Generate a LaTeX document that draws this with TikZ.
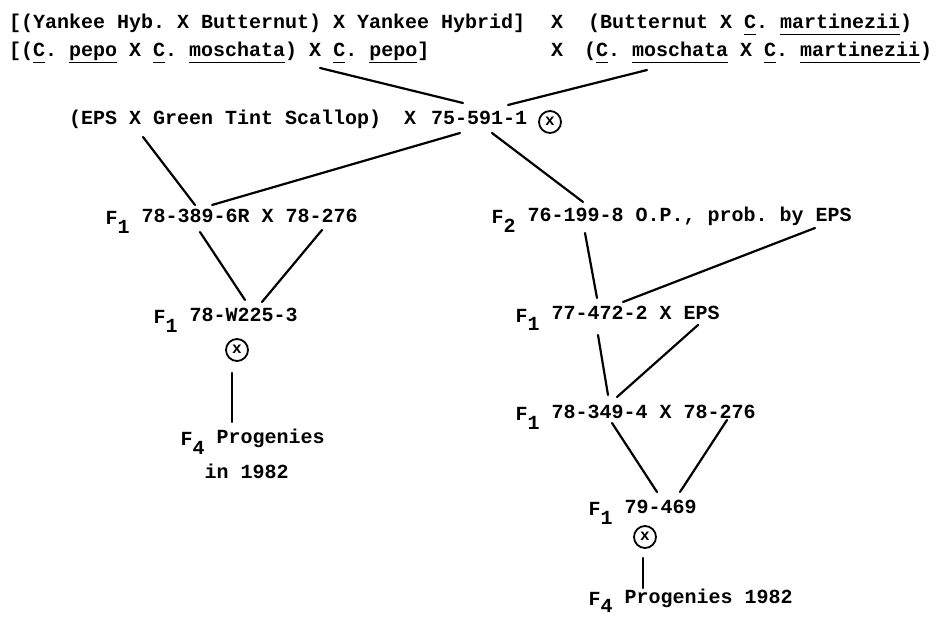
\documentclass[tikz,border=0pt]{standalone}
\usepackage{fontspec}
\newfontfamily\twfont{Liberation Mono}
% typewriter face used for every label, one space width after every period
\newcommand\tw{\twfont\bfseries\fontsize{20}{24}\selectfont\frenchspacing}
% underline at a fixed depth below the baseline
\newcommand\undl[1]{\setbox0=\hbox{#1}\rlap{\rule[-6.5pt]{\wd0}{1.4pt}}\box0\relax}
% generation mark: F with a dropped subscript
\newcommand\gen[1]{\raisebox{-2pt}{F}\raisebox{-11pt}{#1}}
\begin{document}
\begin{tikzpicture}[x=1pt,y=-1pt,
  lbl/.style={anchor=base west, inner sep=0pt, font=\tw},
  crossx/.style={anchor=base, inner sep=0pt, font=\tw},
  link/.style={line width=2.2pt, line cap=round},
  selfmark/.style={circle, draw, line width=1.8pt, minimum size=22pt, inner sep=0pt,
    font=\twfont\bfseries\fontsize{16}{16}\selectfont}]
\useasboundingbox (0,0) rectangle (942,617);

% parental lines
\node[lbl] (l1a) at (9,29) {[(Yankee Hyb. X Butternut) X Yankee Hybrid]};
\node[crossx] (l1x) at (557,29) {X};
\node[lbl] (l1b) at (588,29) {(Butternut X \undl{C}. \undl{martinezii})};
\node[lbl] (l2a) at (9,57) {[(\undl{C}. \undl{pepo} X \undl{C}. \undl{moschata}) X \undl{C}. \undl{pepo}]};
\node[crossx] (l2x) at (557,57) {X};
\node[lbl] (l2b) at (584,57) {(\undl{C}. \undl{moschata} X \undl{C}. \undl{martinezii})};

% first cross
\node[lbl] (eps) at (69,125) {(EPS X Green Tint Scallop)};
\node[crossx] (l3x) at (410,125) {X};
\node[lbl] (c75) at (431,125) {75-591-1};
\node[selfmark] (s75) at (550,122) {\raisebox{1pt}{x}};

% left branch
\node[lbl] (f389) at (105.5,223) {\gen{1} 78-389-6R X 78-276};
\node[lbl] (fw225) at (153.5,322) {\gen{1} 78-W225-3};
\node[selfmark] (sw225) at (237,350) {\raisebox{1pt}{x}};
\node[lbl] (prl) at (180.5,443) {\gen{4} Progenies};
\node[lbl] (prl2) at (204.5,478) {in 1982};

% right branch
\node[lbl] (f199) at (491.5,222) {\gen{2} 76-199-8 O.P., prob. by EPS};
\node[lbl] (f472) at (515.5,320) {\gen{1} 77-472-2 X EPS};
\node[lbl] (f349) at (515.5,418) {\gen{1} 78-349-4 X 78-276};
\node[lbl] (f469) at (588.5,513) {\gen{1} 79-469};
\node[selfmark] (s469) at (645,537) {\raisebox{1pt}{x}};
\node[lbl] (prr) at (588.5,603) {\raisebox{-2pt}{F}\raisebox{-9pt}{4} Progenies 1982};

% connector end points
\coordinate (a1) at (320,68);  \coordinate (a2) at (463,103);
\coordinate (b1) at (647,70);  \coordinate (b2) at (508,105);
\coordinate (d1) at (143,137); \coordinate (d2) at (195,205);
\coordinate (e1) at (460,133); \coordinate (e2) at (212,205);
\coordinate (g1) at (492,133); \coordinate (g2) at (583,202);
\coordinate (h1) at (200,232); \coordinate (h2) at (245,300);
\coordinate (i1) at (322,230); \coordinate (i2) at (262,302);
\coordinate (j1) at (232,373); \coordinate (j2) at (232,422);
\coordinate (k1) at (585,233); \coordinate (k2) at (597,298);
\coordinate (m1) at (815,228); \coordinate (m2) at (623,302);
\coordinate (n1) at (598,335); \coordinate (n2) at (608,395);
\coordinate (o1) at (698,325); \coordinate (o2) at (617,397);
\coordinate (q1) at (612,423); \coordinate (q2) at (657,492);
\coordinate (r1) at (727,420); \coordinate (r2) at (680,492);
\coordinate (t1) at (643,558); \coordinate (t2) at (643,588);

\draw[link] (a1) -- (a2);
\draw[link] (b1) -- (b2);
\draw[link] (d1) -- (d2);
\draw[link] (e1) -- (e2);
\draw[link] (g1) -- (g2);
\draw[link] (h1) -- (h2);
\draw[link] (i1) -- (i2);
\draw[link] (j1) -- (j2);
\draw[link] (k1) -- (k2);
\draw[link] (m1) -- (m2);
\draw[link] (n1) -- (n2);
\draw[link] (o1) -- (o2);
\draw[link] (q1) -- (q2);
\draw[link] (r1) -- (r2);
\draw[link] (t1) -- (t2);
\end{tikzpicture}
\end{document}
